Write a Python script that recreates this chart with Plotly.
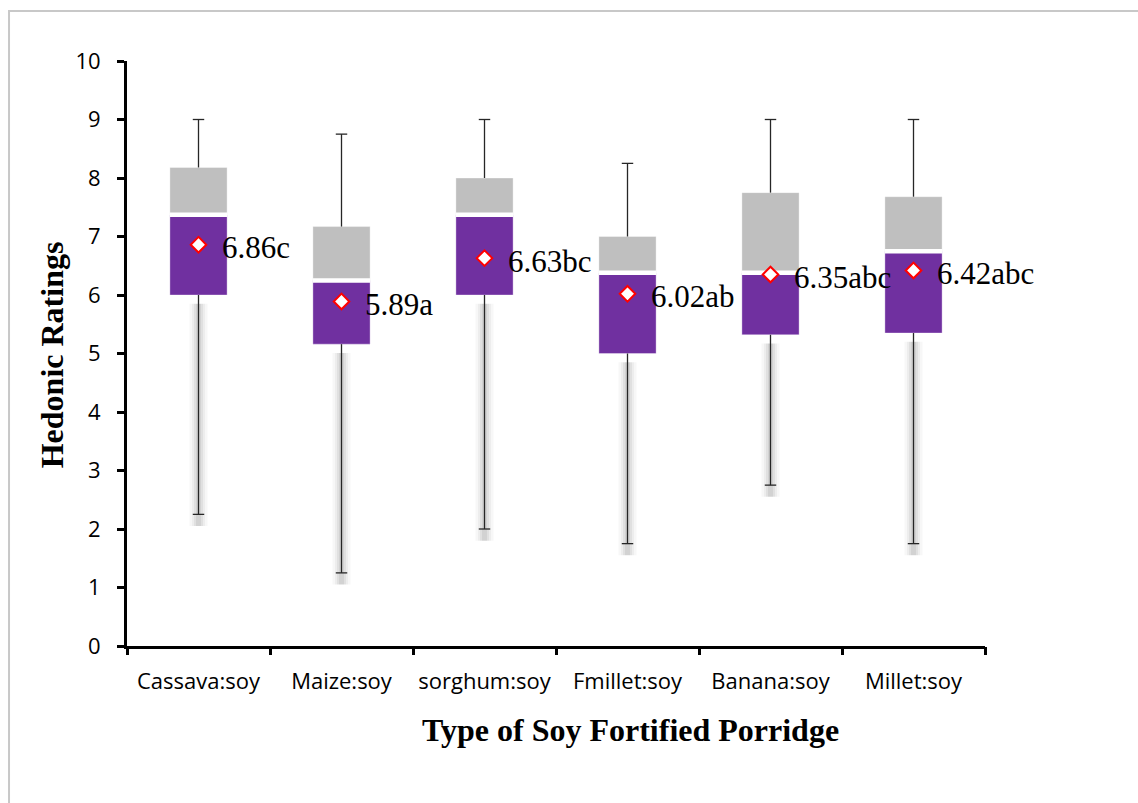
import plotly.graph_objects as go

# Five-number summaries and means of hedonic ratings per porridge type
categories = ["Cassava:soy", "Maize:soy", "sorghum:soy", "Fmillet:soy", "Banana:soy", "Millet:soy"]
minimum = [2.25, 1.25, 2.0, 1.75, 2.75, 1.75]
q1 = [6.0, 5.16, 6.0, 5.0, 5.32, 5.35]
median = [7.37, 6.25, 7.37, 6.38, 6.38, 6.75]
q3 = [8.18, 7.17, 8.0, 7.0, 7.75, 7.68]
maximum = [9.0, 8.75, 9.0, 8.25, 9.0, 9.0]
means = [6.86, 5.89, 6.63, 6.02, 6.35, 6.42]
letters = ["c", "a", "bc", "ab", "abc", "abc"]

xs = list(range(len(categories)))
boundaries = [i - 0.5 for i in range(len(categories) + 1)]
BOX_W = 0.4
CAP_HALF = 0.04

fig = go.Figure()

# Lower box: Q1 -> median (purple), upper box: median -> Q3 (grey)
fig.add_trace(go.Bar(
    x=xs, y=[m - a for m, a in zip(median, q1)], base=q1, width=BOX_W,
    marker=dict(color="#7030a0", line=dict(color="rgba(255,255,255,0.35)", width=1)),
    hoverinfo="skip", showlegend=False,
))
fig.add_trace(go.Bar(
    x=xs, y=[b - m for b, m in zip(q3, median)], base=median, width=BOX_W,
    marker=dict(color="#bfbfbf", line=dict(color="rgba(255,255,255,0.35)", width=1)),
    hoverinfo="skip", showlegend=False,
))


def segments(pairs):
    """Flatten (x0, y0, x1, y1) tuples into None-separated line coordinates."""
    px, py = [], []
    for x0, y0, x1, y1 in pairs:
        px += [x0, x1, None]
        py += [y0, y1, None]
    return px, py


# Soft drop shadow under the lower whiskers
for width, alpha in [(18, 0.03), (13, 0.04), (9, 0.05), (5, 0.06)]:
    sx, sy = segments([(x, lo - 0.15, x, mn - 0.2) for x, lo, mn in zip(xs, q1, minimum)])
    fig.add_trace(go.Scatter(x=sx, y=sy, mode="lines",
                             line=dict(color=f"rgba(0,0,0,{alpha})", width=width),
                             hoverinfo="skip", showlegend=False))

# Whiskers
wx, wy = segments(
    [(x, hi, x, mx) for x, hi, mx in zip(xs, q3, maximum)]
    + [(x, lo, x, mn) for x, lo, mn in zip(xs, q1, minimum)]
)
fig.add_trace(go.Scatter(x=wx, y=wy, mode="lines", line=dict(color="#262626", width=1.3),
                         hoverinfo="skip", showlegend=False))

# Whisker caps
cx, cy = segments(
    [(x - CAP_HALF, mx, x + CAP_HALF, mx) for x, mx in zip(xs, maximum)]
    + [(x - CAP_HALF, mn, x + CAP_HALF, mn) for x, mn in zip(xs, minimum)]
)
fig.add_trace(go.Scatter(x=cx, y=cy, mode="lines", line=dict(color="#262626", width=1.3),
                         hoverinfo="skip", showlegend=False))

# White median separator
mx_, my_ = segments([(x - BOX_W / 2, m, x + BOX_W / 2, m) for x, m in zip(xs, median)])
fig.add_trace(go.Scatter(x=mx_, y=my_, mode="lines", line=dict(color="white", width=4.5),
                         hoverinfo="skip", showlegend=False))

# Means
fig.add_trace(go.Scatter(
    x=xs, y=means, mode="markers",
    marker=dict(symbol="diamond", size=12, color="white", line=dict(color="#ff0000", width=2)),
    hoverinfo="skip", showlegend=False,
))

# Invisible trace that carries the category-boundary tick axis
fig.add_trace(go.Scatter(x=boundaries, y=[None] * len(boundaries), xaxis="x2", mode="markers",
                         marker=dict(opacity=0), hoverinfo="skip", showlegend=False))

for x, m, l in zip(xs, means, letters):
    fig.add_annotation(x=x, y=m, text=f"{m:.2f}{l}", showarrow=False,
                       xanchor="left", yanchor="middle", xshift=21, yshift=-3,
                       font=dict(family="Liberation Serif", size=31, color="black"))

# Axis titles
fig.add_annotation(xref="paper", yref="paper", x=-0.0874, y=0.497, text="<b>Hedonic Ratings</b>",
                   textangle=-90, showarrow=False, xanchor="center", yanchor="middle",
                   font=dict(family="Liberation Serif", size=32, color="black"))
fig.add_annotation(xref="paper", yref="paper", x=0.587, y=-0.1436,
                   text="<b>Type of Soy Fortified Porridge</b>", showarrow=False,
                   xanchor="center", yanchor="middle",
                   font=dict(family="Liberation Serif", size=32, color="black"))

# Outer frame
fig.add_shape(type="rect", xref="paper", yref="paper",
              x0=-0.1375, x1=1.19, y0=-0.28, y1=1.0855,
              line=dict(color="#c8c8c8", width=2), fillcolor="rgba(0,0,0,0)", layer="below")

fig.update_layout(
    width=1138, height=803,
    margin=dict(l=127, r=153, t=61, b=157),
    paper_bgcolor="white", plot_bgcolor="white",
    barmode="overlay",
    font=dict(family="Open Sans", size=22, color="black"),
    xaxis=dict(
        range=[-0.5, 5.5], tickvals=xs, ticktext=categories,
        showline=True, linecolor="black", linewidth=3,
        ticks="", showgrid=False, zeroline=False, ticklabelstandoff=14,
        tickfont=dict(family="Open Sans", size=22, color="black"),
    ),
    xaxis2=dict(
        overlaying="x", anchor="y", side="bottom", range=[-0.5, 5.5],
        tickvals=boundaries,
        ticks="outside", ticklen=8, tickwidth=3, tickcolor="black",
        showticklabels=False, showline=False, showgrid=False, zeroline=False,
    ),
    yaxis=dict(
        range=[0, 10], tickvals=list(range(0, 11)),
        showline=True, linecolor="black", linewidth=3,
        ticks="outside", ticklen=7, tickwidth=3, tickcolor="black",
        showgrid=False, zeroline=False, ticklabelstandoff=12,
        tickfont=dict(family="Open Sans", size=22, color="black"),
    ),
)

fig.write_html("out.html")
